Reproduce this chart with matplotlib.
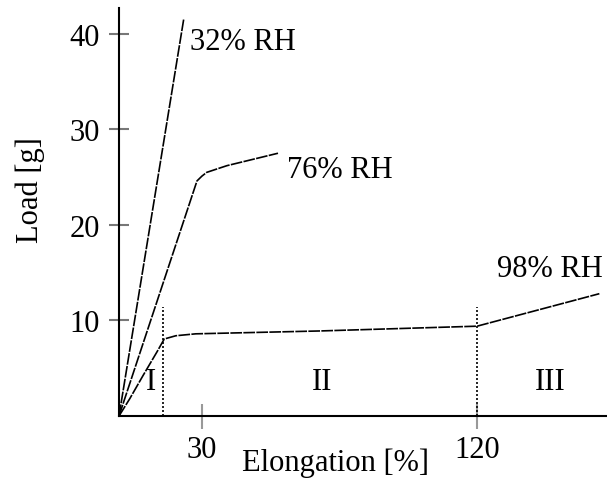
import matplotlib
matplotlib.use("Agg")
import matplotlib.pyplot as plt

# --- data (elongation %, load g) ---
x_32 = [2.9, 24.1]
y_32 = [0, 41.6]

x_76 = [2.9, 28.4, 30.0, 31.6, 38.2, 54.9]
y_76 = [0, 24.6, 25.1, 25.5, 26.2, 27.5]

x_98 = [2.9, 6.4, 10.7, 15.3, 17.7, 21.5, 28.0, 68.6, 120, 160]
y_98 = [0, 1.8, 4.2, 6.7, 8.06, 8.4, 8.6, 8.9, 9.4, 12.8]

region_bounds = [17.3, 120]
region_top = 11.4
region_labels = ["I", "II", "III"]
region_x = [13.5, 69.3, 144]
region_y = 3.6

curve_labels = ["32% RH", "76% RH", "98% RH"]
curve_label_xy = [(26.1, 39.2), (57.8, 25.8), (126.5, 15.4)]

xticks = [30, 120]
yticks = [10, 20, 30, 40]

plt.rcParams["font.family"] = ["Liberation Serif", "DejaVu Serif"]
FS = 22

fig = plt.figure(figsize=(6.07, 4.81), dpi=100)
ax = fig.add_axes([119 / 607, 64 / 481, 488 / 607, 408 / 481])

ls = (0, (7, 0.8))
for xs, ys in [(x_32, y_32), (x_76, y_76), (x_98, y_98)]:
    ax.plot(xs, ys, color="black", lw=1.2, ls=ls)

for xb in region_bounds:
    ax.plot([xb, xb], [0, region_top], color="black", lw=1.2, ls=(0, (1.2, 1.2)))

for lab, xr in zip(region_labels, region_x):
    ax.text(xr, region_y, lab, ha="center", va="center", fontsize=FS)

for lab, (xt, yt) in zip(curve_labels, curve_label_xy):
    ax.text(xt, yt, lab, ha="left", va="center", fontsize=FS)

ax.set_xlim(2.9, 162.5)
ax.set_ylim(0, 42.7)
ax.set_xticks(xticks)
ax.set_yticks(yticks)
ax.tick_params(axis="x", direction="inout", length=18, width=1.5, color="#999999",
               labelsize=FS, pad=5)
ax.tick_params(axis="y", direction="inout", length=14, width=1.5, color="#777777",
               labelsize=FS, pad=7)
for side in ["top", "right"]:
    ax.spines[side].set_visible(False)
for side in ["left", "bottom"]:
    ax.spines[side].set_linewidth(1.5)

ax.set_xlabel("Elongation [%]", fontsize=FS)
ax.xaxis.set_label_coords((335 - 119) / 488, -(449 - 417) / 408)
ax.set_ylabel("Load [g]", fontsize=FS)
ax.yaxis.set_label_coords(-(119 - 45) / 488, (417 - 190) / 408)

fig.savefig("out.png", dpi=100)
